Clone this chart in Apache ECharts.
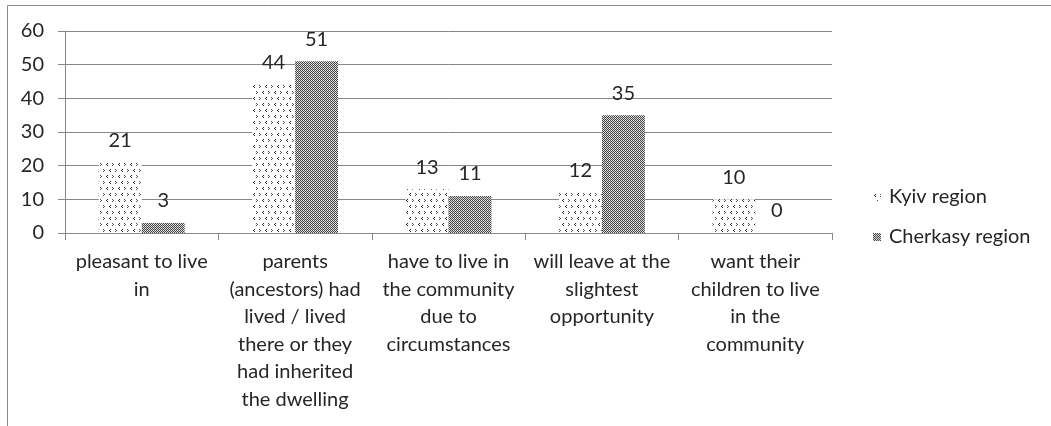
<!DOCTYPE html>
<html><head><meta charset="utf-8">
<script src="https://cdn.jsdelivr.net/npm/echarts@6/dist/echarts.min.js"></script>
<style>html,body{margin:0;padding:0;background:#fff;overflow:hidden}#c{width:1051px;height:426px}</style>
</head><body><div id="c"></div>
<script>
const categories = [
  'pleasant to live\nin',
  'parents\n(ancestors) had\nlived / lived\nthere or they\nhad inherited\nthe dwelling',
  'have to live in\nthe community\ndue to\ncircumstances',
  'will leave at the\nslightest\nopportunity',
  'want their\nchildren to live\nin the\ncommunity'
];
const seriesNames = ['Kyiv region', 'Cherkasy region'];
const kyiv = [21, 44, 13, 12, 10];
const cherkasy = [3, 51, 11, 35, 0];
const yTicks = { min: 0, max: 60, interval: 10 };

function kyivPattern() {
  const c = document.createElement('canvas'); c.width = 12; c.height = 12;
  const g = c.getContext('2d'); g.fillStyle = '#fff'; g.fillRect(0,0,12,12);
  function lt(x,y,col){ g.fillStyle=col; g.fillRect(x+1,y,1,1); g.fillRect(x,y+1,1,1); g.fillRect(x+1,y+2,1,1); }
  function gt(x,y,col){ g.fillStyle=col; g.fillRect(x,y,1,1); g.fillRect(x+1,y+1,1,1); g.fillRect(x,y+2,1,1); }
  lt(1,1,'#222'); gt(7,1,'#555'); gt(4,7,'#555'); lt(10,7,'#222');
  return c;
}
function cherPattern() {
  const c = document.createElement('canvas'); c.width = 4; c.height = 4;
  const g = c.getContext('2d');
  for (let x=0;x<4;x++) for (let y=0;y<4;y++) {
    g.fillStyle = ((x+y)%2===0) ? '#444' : (x%2===1 ? '#e8e8e8' : '#d0d0d0');
    g.fillRect(x,y,1,1);
  }
  return c;
}
const pK = { image: kyivPattern(), repeat: 'repeat' };
const pC = { image: cherPattern(), repeat: 'repeat' };
const font = 'Lato, "Open Sans", sans-serif';

const chart = echarts.init(document.getElementById('c'), null, { renderer: 'canvas' });
chart.setOption({
  animation: false,
  backgroundColor: '#fff',
  textStyle: { fontFamily: font },
  graphic: [{ type: 'rect', shape: { x: 7.5, y: 5.5, width: 1100, height: 500 },
    style: { fill: 'none', stroke: '#8a8a8a', lineWidth: 1 }, silent: true, z: -1 }],
  grid: { left: 65, right: 219, top: 31, bottom: 193 },
  legend: {
    orient: 'vertical', left: 868, top: 182, itemWidth: 8, itemHeight: 8, itemGap: 20,
    icon: 'rect',
    textStyle: { fontFamily: font, fontSize: 20, color: '#262626', padding: [0,0,0,3] },
    data: seriesNames
  },
  xAxis: {
    type: 'category', data: categories,
    axisLine: { lineStyle: { color: '#888', width: 1 } },
    axisTick: { show: true, length: 7, alignWithLabel: false, lineStyle: { color: '#888' } },
    axisLabel: { interval: 0, fontFamily: font, fontSize: 20, color: '#262626', lineHeight: 27.5, margin: 15, align: 'center' }
  },
  yAxis: {
    type: 'value', min: yTicks.min, max: yTicks.max, interval: yTicks.interval,
    axisLine: { show: true, lineStyle: { color: '#888', width: 1 } },
    axisTick: { show: true, length: 7, lineStyle: { color: '#888' } },
    splitLine: { lineStyle: { color: '#888', width: 1 } },
    axisLabel: { fontFamily: font, fontSize: 20, color: '#262626', margin: 21 }
  },
  series: [
    { name: seriesNames[0], type: 'bar', data: kyiv, barGap: '0%', barCategoryGap: '44%',
      itemStyle: { color: pK },
      label: { show: true, position: 'top', distance: 12, fontFamily: font, fontSize: 20, color: '#262626' } },
    { name: seriesNames[1], type: 'bar', data: cherkasy, barGap: '0%', barCategoryGap: '44%',
      itemStyle: { color: pC },
      label: { show: true, position: 'top', distance: 12, fontFamily: font, fontSize: 20, color: '#262626' } }
  ]
});
</script></body></html>
